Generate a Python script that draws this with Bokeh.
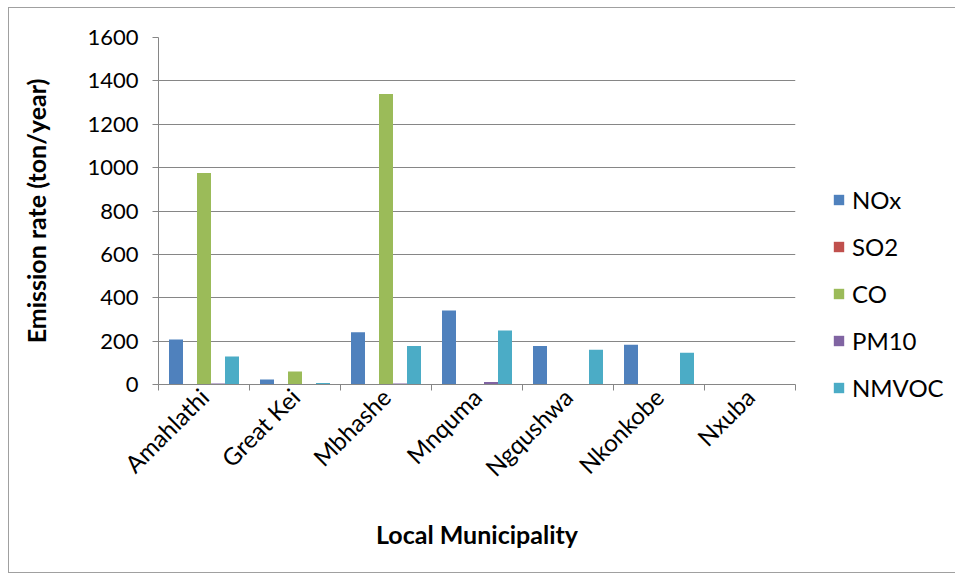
import numpy as np
from bokeh.plotting import figure
from bokeh.models import ColumnDataSource, FixedTicker, Legend, LegendItem, Range1d
from bokeh.embed import file_html
from bokeh.resources import INLINE
from math import pi

municipalities = ["Amahlathi", "Great Kei", "Mbhashe", "Mnquma", "Ngqushwa", "Nkonkobe", "Nxuba"]
series_names = ["NOx", "SO2", "CO", "PM10", "NMVOC"]
nox = [207, 23, 241, 341, 177, 183, 0]
so2 = [2, 0, 2, 0, 0, 0, 0]
co = [975, 60, 1340, 0, 0, 0, 0]
pm10 = [5, 0, 5, 12, 0, 0, 0]
nmvoc = [129, 7, 177, 249, 160, 146, 0]
colors = ["#4F81BD", "#C0504D", "#9BBB59", "#8064A2", "#4BACC6"]
y_ticks = [0, 200, 400, 600, 800, 1000, 1200, 1400, 1600]

values = [nox, so2, co, pm10, nmvoc]
FONT = "Lato"

p = figure(frame_width=637, frame_height=347, output_backend="svg", toolbar_location=None,
           x_range=Range1d(0, len(municipalities)), y_range=Range1d(0, 1600),
           min_border_left=149, min_border_right=153, min_border_top=29, min_border_bottom=188)
p.styles = {"margin-left": "8px", "margin-top": "7px", "border": "1px solid #a0a0a0"}
p.outline_line_color = None
p.background_fill_color = "white"
p.border_fill_color = "white"

bar_w = 1.0 / 6.5
centers = np.arange(len(municipalities)) + 0.5
renderers = []
for k, (name, vals, col) in enumerate(zip(series_names, values, colors)):
    src = ColumnDataSource(dict(x=centers + (k - 2) * bar_w, top=vals))
    r = p.vbar(x="x", top="top", bottom=0, width=bar_w, source=src,
               fill_color=col, line_color=None)
    renderers.append(r)

# x axis
xt = FixedTicker(ticks=list(centers), minor_ticks=list(range(len(municipalities) + 1)))
p.xaxis.ticker = xt
p.xaxis.major_label_overrides = {float(c): m for c, m in zip(centers, municipalities)}
p.xaxis.major_label_orientation = pi / 4
p.xaxis.major_tick_out = 0
p.xaxis.major_tick_in = 0
p.xaxis.minor_tick_out = 6
p.xaxis.minor_tick_in = 0
p.xaxis.minor_tick_line_color = "#868686"
p.xaxis.axis_line_color = "#868686"
p.xaxis.major_label_text_font = FONT
p.xaxis.major_label_text_font_size = "24px"
p.xaxis.major_label_text_color = "#000000"
p.xaxis.major_label_standoff = 2
p.xaxis.axis_label = "Local Municipality"
p.xaxis.axis_label_text_font = FONT
p.xaxis.axis_label_text_font_size = "25px"
p.xaxis.axis_label_text_font_style = "bold"
p.xaxis.axis_label_text_color = "#000000"
p.xaxis.axis_label_standoff = 24
p.xgrid.grid_line_color = None

# y axis
p.yaxis.ticker = FixedTicker(ticks=y_ticks)
p.yaxis.major_tick_out = 6
p.yaxis.major_tick_in = 0
p.yaxis.minor_tick_line_color = None
p.yaxis.major_tick_line_color = "#868686"
p.yaxis.axis_line_color = "#868686"
p.yaxis.major_label_text_font = FONT
p.yaxis.major_label_text_font_size = "22px"
p.yaxis.major_label_text_color = "#000000"
p.yaxis.major_label_standoff = 14
p.yaxis.axis_label = "Emission rate (ton/year)"
p.yaxis.axis_label_text_font = FONT
p.yaxis.axis_label_text_font_size = "25px"
p.yaxis.axis_label_text_font_style = "bold"
p.yaxis.axis_label_text_color = "#000000"
p.yaxis.axis_label_standoff = 33
p.ygrid.grid_line_color = "#868686"
p.ygrid.grid_line_width = 1

legend = Legend(items=[LegendItem(label=n, renderers=[r]) for n, r in zip(series_names, renderers)],
                location=(37, -18), orientation="vertical",
                border_line_color=None, background_fill_alpha=0,
                glyph_width=13, glyph_height=13, label_standoff=7, spacing=18,
                label_text_font=FONT, label_text_font_size="24px", label_text_color="#000000",
                padding=0, margin=0)
p.add_layout(legend, "right")

open("out.html", "w").write(file_html(p, INLINE))
